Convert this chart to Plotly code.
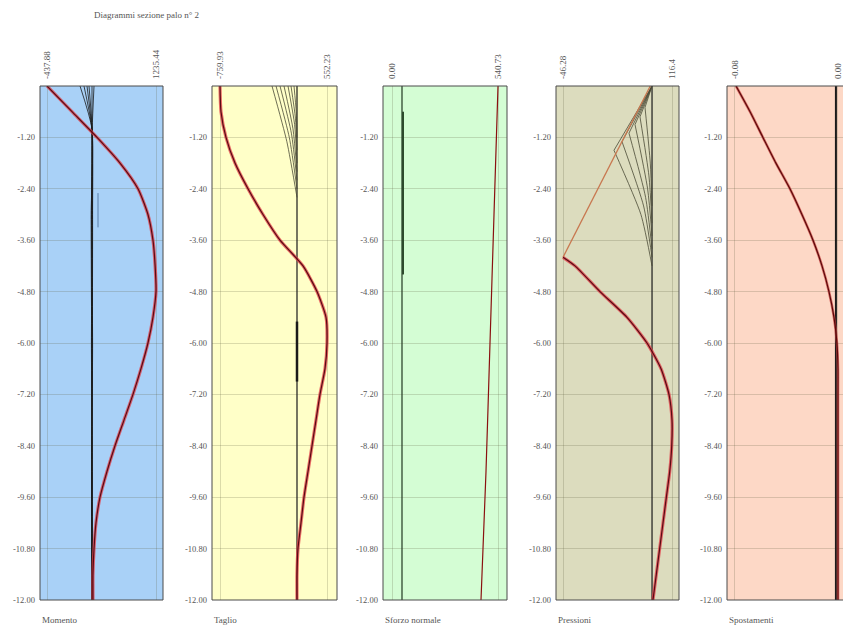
import plotly.graph_objects as go

# ---------------- data ----------------
depth_grid = [0, -0.6, -1.2, -1.8, -2.4, -3.0, -3.6, -4.2, -4.8, -5.4, -6.0,
              -6.6, -7.2, -7.8, -8.4, -9.0, -9.6, -10.2, -10.8, -11.4, -12.0]
y_ticks = [-1.2, -2.4, -3.6, -4.8, -6.0, -7.2, -8.4, -9.6, -10.8, -12.0]

panel_titles = ["Momento", "Taglio", "Sforzo normale", "Pressioni", "Spostamenti"]
x_min_vals = [-437.88, -759.93, 0.00, -46.28, -0.08]
x_max_vals = [1235.44, 552.23, 540.73, 116.4, 0.00]
x_min_text = ["-437.88", "-759.93", "0.00", "-46.28", "-0.08"]
x_max_text = ["1235.44", "552.23", "540.73", "116.4", "0.00"]

# Momento (envelope)
momento_env = [-437.88, -54, 330, 683, 959, 1112, 1189, 1222, 1235.44, 1189, 1112,
               1005, 882, 744, 606, 483, 376, 314, 284, 268, 268]
momento_black_depth = [0, -1.0, -3.0, -6.0, -9.0, -12.0]
momento_black = [
    [253, 253, 253, 253, 253, 253],
    [69, 253, 240, 248, 256, 253],
    [130, 253, 262, 258, 248, 253],
    [176, 250, 247, 262, 250, 253],
    [207, 255, 258, 244, 258, 253],
    [284, 256, 250, 255, 246, 253],
]
momento_grey_depth = [-2.5, -3.3]
momento_grey = [345, 345]

# Taglio
taglio_env = [-759.93, -747.7, -686.4, -576, -416.6, -232.6, -24.1, 257.9, 429.6, 540, 552.23,
              527.7, 466.4, 417.3, 368.3, 319.2, 270.2, 233.4, 196.6, 184.3, 184.3]
taglio_axis = [184.3, 184.3]
taglio_axis_depth = [0, -12.0]
taglio_bundle_start = [-122.2, -73.2, -24.1, 24.9, 74.0, 110.7, 147.5]
taglio_bundle_mid = [60, 90, 115, 135, 155, 165, 175]
taglio_bundle_mid_depth = [-1.3, -1.2, -1.1, -1.0, -0.9, -0.75, -0.6]
taglio_bundle_end_depth = [-2.6, -2.4, -2.2, -2.0, -1.8, -1.5, -1.2]
taglio_thick = [184.3, 184.3]
taglio_thick_depth = [-5.5, -6.9]

# Sforzo normale
sforzo_env = [540.73, 520.3, 499.9, 479.5, 454.0]
sforzo_env_depth = [0, -3.0, -6.0, -9.0, -12.0]
sforzo_axis = [51, 51]
sforzo_axis_depth = [0, -12.0]
sforzo_seg = [56, 56]
sforzo_seg_depth = [-0.6, -4.4]

# Pressioni
press_env_top = [84.0, -46.28]
press_env_top_depth = [0, -4.0]
press_env = [-46.28, -28.4, 8.9, 49.2, 79.1, 100.0, 111.9, 116.4, 116.0, 113.0,
             108.0, 103.0, 98.0, 93.0, 88.0]
press_env_depth = [-4.0, -4.2, -4.8, -5.4, -6.0, -6.6, -7.2, -7.8, -8.4, -9.0,
                   -9.6, -10.2, -10.8, -11.4, -12.0]
press_axis = [86.6, 86.6]
press_axis_depth = [0, -12.0]
press_fan_vertex = [29.8, 41.8, 52.2, 61.2, 68.6, 76.1]
press_fan_vertex_depth = [-1.5, -1.3, -1.1, -0.9, -0.72, -0.5]
press_fan_mid = [70, 74, 77, 80, 82, 84]
press_fan_mid_depth = [-3.0, -2.8, -2.6, -2.4, -2.1, -1.8]
press_fan_end_depth = [-4.2, -4.0, -3.8, -3.5, -3.2, -2.8]

# Spostamenti
spost_env = [-0.0792, -0.0683, -0.0583, -0.0482, -0.0373, -0.0280, -0.0194, -0.0124,
             -0.0070, -0.0031, -0.0008, 0.0, 0.0, 0.0, 0.0, 0.0, 0.0, 0.0, 0.0, 0.0, 0.0]
spost_axis = [-0.0016, -0.0016]
spost_axis_depth = [0, -12.0]

# ---------------- layout constants ----------------
W, H = 843, 626
box_px = [(40, 163), (212, 337), (383, 507), (556, 679), (727, 843)]
x_ranges = [[-545.3, 1342.9], [-858.0, 674.8], [-45.9, 586.6], [-56.73, 126.85], [-0.0862, 0.0039]]
bg_colors = ["#a9d1f7", "#ffffc8", "#d4fdd4", "#dcdcbe", "#fdd8c6"]
FONT = "Liberation Serif, Times New Roman, serif"
GRID = "rgba(90,90,60,0.22)"
TXT = "#555555"
PLOT_TOP, PLOT_BOT = 86, 600
PLOT_H = PLOT_BOT - PLOT_TOP

fig = go.Figure()


def ax(i):
    return ("x" if i == 0 else f"x{i+1}"), ("y" if i == 0 else f"y{i+1}")


def add_line(i, xs, ys, color, width):
    xa, ya = ax(i)
    fig.add_trace(go.Scatter(x=xs, y=ys, xaxis=xa, yaxis=ya, mode="lines",
                             line=dict(color=color, width=width, shape="spline", smoothing=0.6),
                             hoverinfo="skip", showlegend=False))


def add_straight(i, xs, ys, color, width):
    xa, ya = ax(i)
    fig.add_trace(go.Scatter(x=xs, y=ys, xaxis=xa, yaxis=ya, mode="lines",
                             line=dict(color=color, width=width),
                             hoverinfo="skip", showlegend=False))


def add_env(i, xs, ys):
    add_line(i, xs, ys, "rgba(225,60,70,0.75)", 3.2)
    add_line(i, xs, ys, "#5a0a14", 1.2)


BLACK = "#1a1a1a"
OLIVE = "#4a4a36"

# Panel 1 Momento
for s in momento_black:
    add_line(0, s, momento_black_depth, BLACK, 0.8)
add_straight(0, momento_grey, momento_grey_depth, "#5a7ea8", 1)
add_env(0, momento_env, depth_grid)

# Panel 2 Taglio
add_straight(1, taglio_axis, taglio_axis_depth, BLACK, 1.2)
for s, m, md, ed in zip(taglio_bundle_start, taglio_bundle_mid, taglio_bundle_mid_depth, taglio_bundle_end_depth):
    add_line(1, [s, m, taglio_axis[0]], [0, md, ed], OLIVE, 0.8)
add_straight(1, taglio_thick, taglio_thick_depth, BLACK, 2.5)
add_env(1, taglio_env, depth_grid)

# Panel 3 Sforzo normale
add_straight(2, sforzo_axis, sforzo_axis_depth, "#203820", 1.2)
add_straight(2, sforzo_seg, sforzo_seg_depth, "#2c4a2c", 2)
add_line(2, sforzo_env, sforzo_env_depth, "#8a1010", 1.2)

# Panel 4 Pressioni
add_straight(3, press_axis, press_axis_depth, BLACK, 1.2)
for v, vd, m, md, ed in zip(press_fan_vertex, press_fan_vertex_depth, press_fan_mid, press_fan_mid_depth, press_fan_end_depth):
    add_straight(3, [press_axis[0], v], [0, vd], OLIVE, 0.8)
    add_line(3, [v, m, press_axis[0]], [vd, md, ed], OLIVE, 0.8)
add_straight(3, press_env_top, press_env_top_depth, "#c87850", 1.3)
add_env(3, press_env, press_env_depth)

# Panel 5 Spostamenti
add_straight(4, spost_axis, spost_axis_depth, BLACK, 2)
add_line(4, spost_env, depth_grid, "rgba(200,60,60,0.7)", 2.6)
add_line(4, spost_env, depth_grid, "#5a0a0a", 1.2)

shapes = []
annotations = []
layout = {}
for i in range(5):
    l, r = box_px[i]
    dom = [l / W, min(1.0, r / W)]
    xa, ya = ax(i)
    xkey = "xaxis" if i == 0 else f"xaxis{i+1}"
    ykey = "yaxis" if i == 0 else f"yaxis{i+1}"
    layout[xkey] = dict(domain=dom, range=x_ranges[i], anchor=ya, side="top",
                        tickvals=[x_min_vals[i], x_max_vals[i]],
                        ticktext=[x_min_text[i], x_max_text[i]],
                        tickangle=-90, showgrid=True, gridcolor=GRID, gridwidth=1,
                        zeroline=False, showline=False, ticks="",
                        ticklabelstandoff=6,
                        tickfont=dict(family=FONT, size=9, color=TXT), fixedrange=True)
    layout[ykey] = dict(domain=[0, 1], range=[-12, 0], anchor=xa,
                        tickvals=y_ticks, ticktext=[f"{v:.2f}" for v in y_ticks],
                        showgrid=True, gridcolor=GRID, gridwidth=1,
                        zeroline=False, showline=False, ticks="",
                        ticklabelstandoff=4,
                        tickfont=dict(family=FONT, size=8.5, color=TXT), fixedrange=True)
    xr = f"{xa} domain"
    yr = f"{ya} domain"
    shapes.append(dict(type="rect", xref=xr, yref=yr, x0=0, x1=1, y0=0, y1=1,
                       fillcolor=bg_colors[i], line=dict(width=0), layer="below"))
    if i < 4:
        shapes.append(dict(type="rect", xref=xr, yref=yr, x0=0, x1=1, y0=0, y1=1,
                           line=dict(color="#4a4a4a", width=1), layer="above"))
    else:
        shapes.append(dict(type="path", xref=xr, yref=yr,
                           path="M 1.05,1 L 0,1 L 0,0 L 1.05,0",
                           line=dict(color="#4a4a4a", width=1), layer="above"))
    annotations.append(dict(text=panel_titles[i], xref="paper", yref="paper",
                            x=l / W, y=-13 / PLOT_H, xanchor="left", yanchor="top",
                            showarrow=False, font=dict(family=FONT, size=9, color=TXT)))

annotations.append(dict(text="Diagrammi sezione palo n° 2", xref="paper", yref="paper",
                        x=146 / W, y=(PLOT_BOT - 15) / PLOT_H,
                        xanchor="center", yanchor="middle",
                        showarrow=False, font=dict(family=FONT, size=9, color=TXT)))

fig.update_layout(width=W, height=H,
                  margin=dict(l=0, r=0, t=PLOT_TOP, b=H - PLOT_BOT),
                  paper_bgcolor="white", plot_bgcolor="rgba(0,0,0,0)",
                  shapes=shapes, annotations=annotations, showlegend=False, **layout)

fig.write_html("out.html", config={"displayModeBar": False},
               post_script="document.body.style.margin='0';document.body.style.overflow='hidden';")
